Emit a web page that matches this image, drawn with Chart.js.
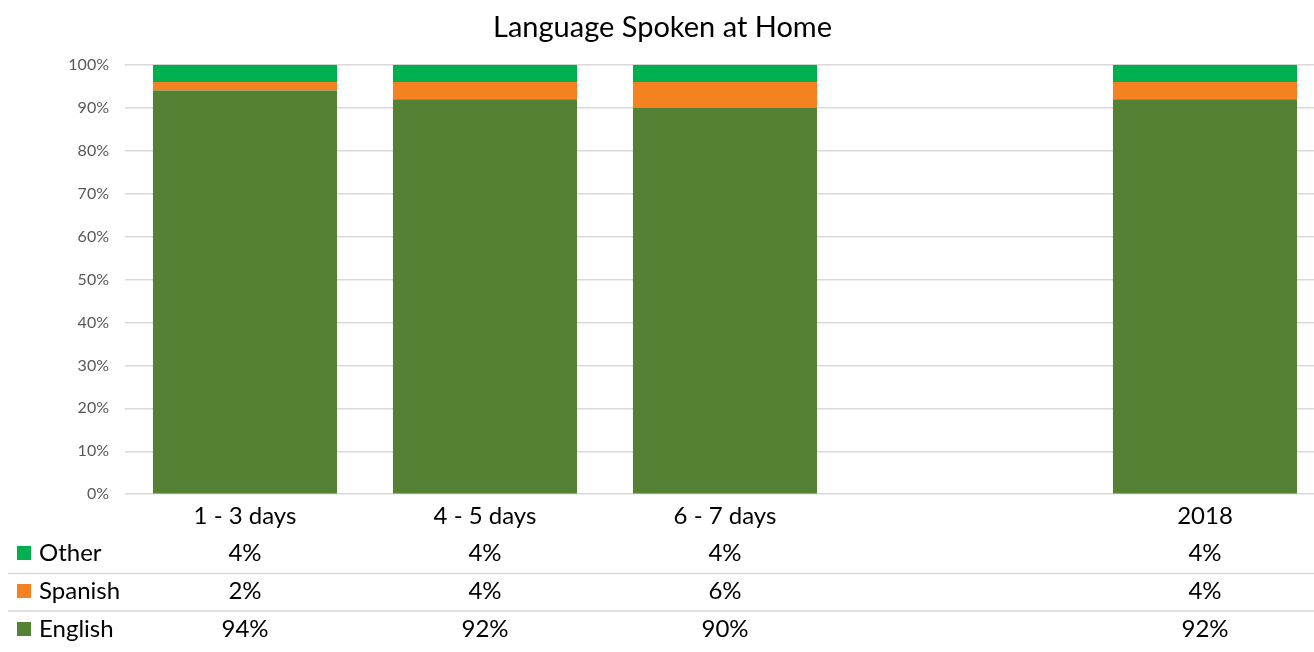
<!DOCTYPE html>
<html>
<head>
<meta charset="utf-8">
<script src="https://cdn.jsdelivr.net/npm/chart.js@4/dist/chart.umd.min.js"></script>
<style>
  html, body { margin: 0; padding: 0; background: #fff; overflow: hidden; }
  #wrap { width: 1314px; height: 652px; overflow: hidden; }
</style>
</head>
<body>
<div id="wrap"><canvas id="chart" width="1325" height="652"></canvas></div>
<script>
// data (percent)
const categories = ['1 - 3 days', '4 - 5 days', '6 - 7 days', '', '2018'];
const english = [94, 92, 90, null, 92];
const spanish = [2, 4, 6, null, 4];
const other = [4, 4, 4, null, 4];
const yTicks = [0, 10, 20, 30, 40, 50, 60, 70, 80, 90, 100];

const FONT = 'Lato, "Liberation Sans", sans-serif';

// data table under the axis, legend keys included
const dataTable = {
    id: 'dataTable',
    afterDraw(chart) {
        const ctx = chart.ctx;
        const xs = chart.scales.x;
        const rows = [2, 1, 0];  // Other, Spanish, English
        const rowY = [553, 591, 629];
        ctx.save();
        ctx.strokeStyle = '#d9d9d9';
        ctx.lineWidth = 1.5;
        ctx.beginPath();
        ctx.moveTo(8, 573.5); ctx.lineTo(1325, 573.5);
        ctx.moveTo(8, 611); ctx.lineTo(1325, 611);
        ctx.stroke();
        ctx.font = '24px ' + FONT;
        ctx.textBaseline = 'middle';
        rows.forEach((di, r) => {
            const ds = chart.data.datasets[di];
            const y = rowY[r];
            ctx.fillStyle = ds.backgroundColor;
            ctx.fillRect(17, y - 7, 14, 14);
            ctx.fillStyle = '#000';
            ctx.textAlign = 'left';
            ctx.fillText(ds.label, 39, y);
            ctx.textAlign = 'center';
            ds.data.forEach((v, i) => {
                if (v === null) return;
                ctx.fillText(v + '%', xs.getPixelForValue(i), y);
            });
        });
        ctx.restore();
    }
};

const data = {
    labels: categories,
    datasets: [
        { label: 'English', data: english, backgroundColor: '#548235' },
        { label: 'Spanish', data: spanish, backgroundColor: '#f58220' },
        { label: 'Other', data: other, backgroundColor: '#00b050' }
    ]
};

const config = {
    type: 'bar',
    data: data,
    options: {
        responsive: false,
        animation: false,
        layout: { padding: { left: 0, right: 0, top: 0, bottom: 113 } },
        datasets: { bar: { categoryPercentage: 1, barPercentage: 0.767 } },
        plugins: {
            legend: { display: false },
            tooltip: { enabled: false },
            title: {
                display: true,
                text: 'Language Spoken at Home',
                color: '#000',
                font: { family: FONT, size: 29, weight: 'normal' },
                padding: { top: 10, bottom: 20 }
            }
        },
        scales: {
            x: {
                stacked: true,
                grid: { display: false, drawTicks: false },
                border: { display: false },
                ticks: { color: '#000', padding: 8, font: { family: FONT, size: 24 } }
            },
            y: {
                stacked: true,
                min: 0,
                max: 100,
                afterBuildTicks: (s) => { s.ticks = yTicks.map(v => ({ value: v })); },
                afterFit: (s) => { s.width = 125; },
                grid: { color: '#d9d9d9', lineWidth: 1.5, drawTicks: false },
                border: { display: false },
                ticks: {
                    color: '#595959',
                    padding: 16,
                    font: { family: FONT, size: 16 },
                    callback: (v) => v + '%'
                }
            }
        }
    },
    plugins: [dataTable]
};

let ctx = document.getElementById('chart').getContext('2d');
new Chart(ctx, config);
</script>
</body>
</html>
